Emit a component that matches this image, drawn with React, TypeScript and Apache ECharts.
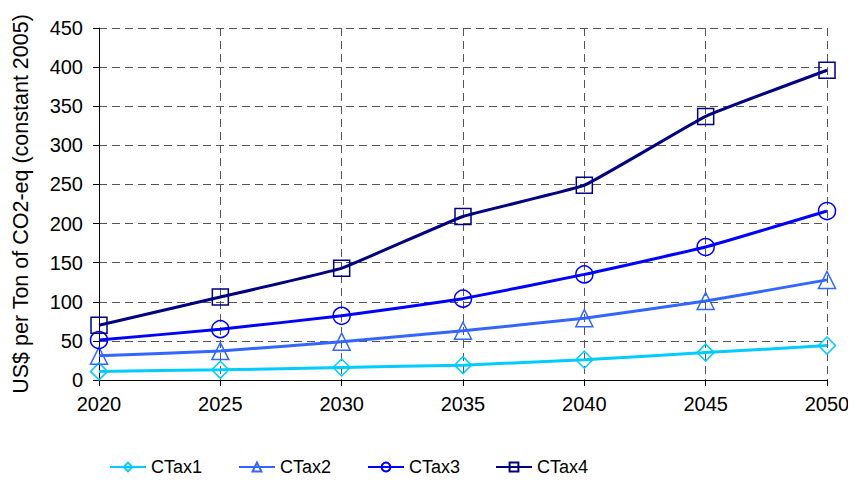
import React, { useEffect, useRef } from 'react';
import * as echarts from 'echarts';

const years = ['2020', '2025', '2030', '2035', '2040', '2045', '2050'];
const ctax1 = [11, 13, 16, 19, 26, 35, 44];
const ctax2 = [31, 37, 49, 63, 79, 101, 128];
const ctax3 = [51, 65, 82, 104, 135, 170, 216];
const ctax4 = [70, 106, 143, 209, 249, 337, 396];

const seriesNames = ['CTax1', 'CTax2', 'CTax3', 'CTax4'];
const seriesColors = ['#00CCFF', '#3366FF', '#0000FF', '#000080'];
const seriesSymbols = ['diamond', 'triangle', 'circle', 'rect'];
const seriesData = [ctax1, ctax2, ctax3, ctax4];
const legendLeft = [104, 233, 362, 490];

const App = () => {
  const chartRef = useRef<HTMLDivElement>(null);

  useEffect(() => {
    let chartInstance: echarts.ECharts | null = null;
    if (chartRef.current) {
      chartInstance = echarts.init(chartRef.current, null, { renderer: 'svg' });
      const font = 'Arial, "Liberation Sans", sans-serif';
      const option: echarts.EChartsOption = {
        animation: false,
        backgroundColor: '#fff',
        textStyle: { fontFamily: font },
        grid: { left: 99, right: 29, top: 28, bottom: 106 },
        legend: seriesNames.map((name, i) => ({
          left: legendLeft[i],
          top: 453,
          itemWidth: 36,
          itemHeight: 11,
          itemGap: 4,
          textStyle: { fontSize: 18, color: '#000', fontFamily: font },
          data: [name],
        })),
        xAxis: {
          type: 'category',
          boundaryGap: false,
          data: years,
          axisLine: { lineStyle: { color: '#000', width: 1 } },
          axisTick: { show: true, length: 6, alignWithLabel: true, lineStyle: { color: '#000' } },
          axisLabel: { fontSize: 20, color: '#000', margin: 14 },
          splitLine: { show: true, lineStyle: { color: '#555', type: [8, 5], width: 1 } },
        },
        yAxis: {
          type: 'value',
          min: 0,
          max: 450,
          interval: 50,
          name: 'US$ per Ton of CO2-eq (constant 2005)',
          nameLocation: 'middle',
          nameGap: 67,
          nameTextStyle: { fontSize: 21.5, color: '#000', fontFamily: font },
          axisLine: { show: true, lineStyle: { color: '#000', width: 1 } },
          axisTick: { show: true, length: 6, lineStyle: { color: '#000' } },
          axisLabel: { fontSize: 20, color: '#000', margin: 16 },
          splitLine: { show: true, lineStyle: { color: '#555', type: [8, 5], width: 1 } },
        },
        series: seriesNames.map((name, i) => ({
          name,
          type: 'line',
          data: seriesData[i],
          smooth: 0.1,
          symbol: seriesSymbols[i],
          symbolSize: seriesSymbols[i] === 'rect' ? 16 : 17,
          lineStyle: { color: seriesColors[i], width: 3 },
          itemStyle: { color: 'rgba(255,255,255,0)', borderColor: seriesColors[i], borderWidth: 1.5 },
          z: 2 + i,
        })),
      };
      chartInstance.setOption(option);
    }
    return () => {
      chartInstance?.dispose();
    };
  }, []);

  return <div ref={chartRef} style={{ width: '856px', height: '486px', margin: '-8px' }} />;
};

export default App;
